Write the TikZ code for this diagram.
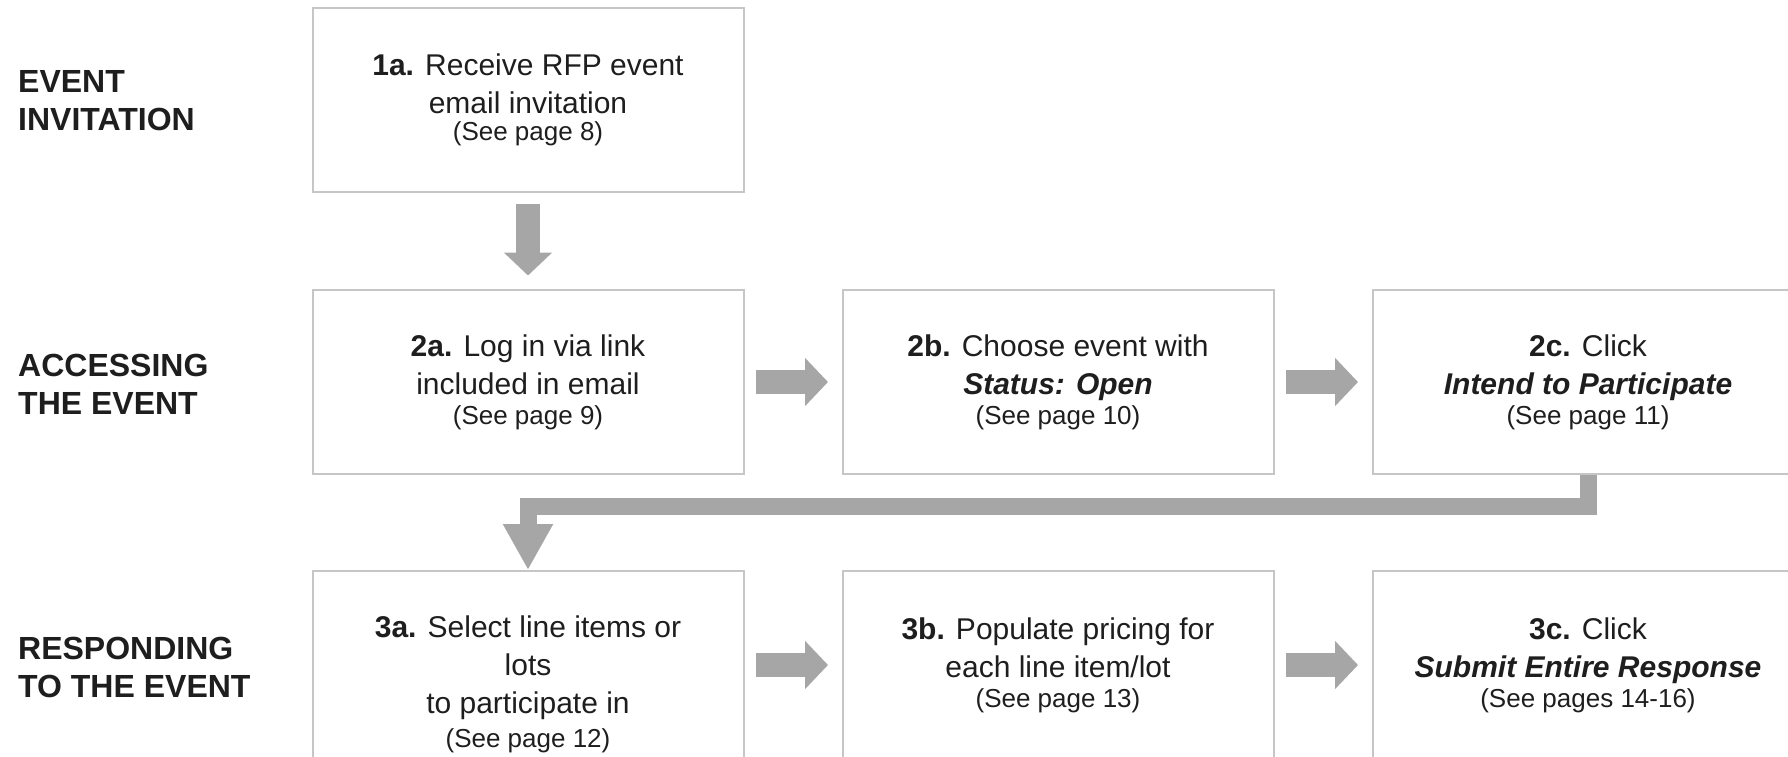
\documentclass[tikz,border=0pt]{standalone}
\usepackage{fontspec}
\setmainfont{Liberation Sans}
\usepackage{xcolor}
\usepackage{tikz}
\usetikzlibrary{arrows.meta}
\definecolor{ink}{HTML}{1E1E1E}
\definecolor{frame}{HTML}{C6C6C6}
\definecolor{pipe}{HTML}{A6A6A6}
\newcommand{\seepg}[1]{\\[-8pt]{\fontsize{26}{28}\selectfont (See #1)}}

\begin{document}
\begin{tikzpicture}[
  x=1pt, y=-1pt,
  bx/.style={draw=frame, line width=2pt, minimum width=431pt, minimum height=184pt,
             font=\fontsize{30}{38}\selectfont, text=ink, align=center},
  hd/.style={font=\fontsize{32}{38}\selectfont\bfseries, text=ink,
             anchor=west, align=left, inner sep=0pt},
  go/.style={draw=pipe, line width=24pt, -{Triangle[length={23pt 0 0}, width={47pt 0 0}]},
             shorten <=11.5pt, shorten >=13.5pt}
]
  \useasboundingbox (0,0) rectangle (1788,756);

  \node[hd] (inv) at (18,101) {EVENT\\INVITATION};
  \node[hd] (acc) at (18,384) {ACCESSING\\THE EVENT};
  \node[hd] (res) at (18,667) {RESPONDING\\TO THE EVENT};

  \node[bx] (b1a) at (528,99.5) {\textbf{1a.} Receive RFP event\\email invitation\\[-11pt]{\fontsize{26}{28}\selectfont (See page 8)}};

  \node[bx] (b2a) at (528,382) {\textbf{2a.} Log in via link\\included in email\seepg{page 9}};
  \node[bx] (b2b) at (1058,382) {\textbf{2b.} Choose event with\\\textbf{\textit{Status: Open}}\seepg{page 10}};
  \node[bx] (b2c) at (1588,382) {\textbf{2c.} Click\\\textbf{\textit{Intend to Participate}}\seepg{page 11}};

  \node[bx, minimum height=226pt] (b3a) at (528,684) {\textbf{3a.} Select line items or\\lots\\to participate in\\[-4pt]{\fontsize{26}{28}\selectfont (See page 12)}};
  \node[bx, minimum height=188pt] (b3b) at (1058,665) {\textbf{3b.} Populate pricing for\\each line item/lot\seepg{page 13}};
  \node[bx, minimum height=188pt] (b3c) at (1588,665) {\textbf{3c.} Click\\\textbf{\textit{Submit Entire Response}}\seepg{pages 14-16}};

  \draw[go] (b1a) -- (b2a);
  \draw[go] (b2a) -- (b2b);
  \draw[go] (b2b) -- (b2c);
  \draw[go] (b3a.east |- b3b.west) -- (b3b.west);
  \draw[go] (b3b) -- (b3c);

  \coordinate (turn) at (528,506);
  \draw[draw=pipe, line width=17pt, line join=miter,
        -{Triangle[length={46pt 0 0}, width={47pt 0 0}]}] (b2c.south) |- (turn) -- (b3a.north);
\end{tikzpicture}
\end{document}
